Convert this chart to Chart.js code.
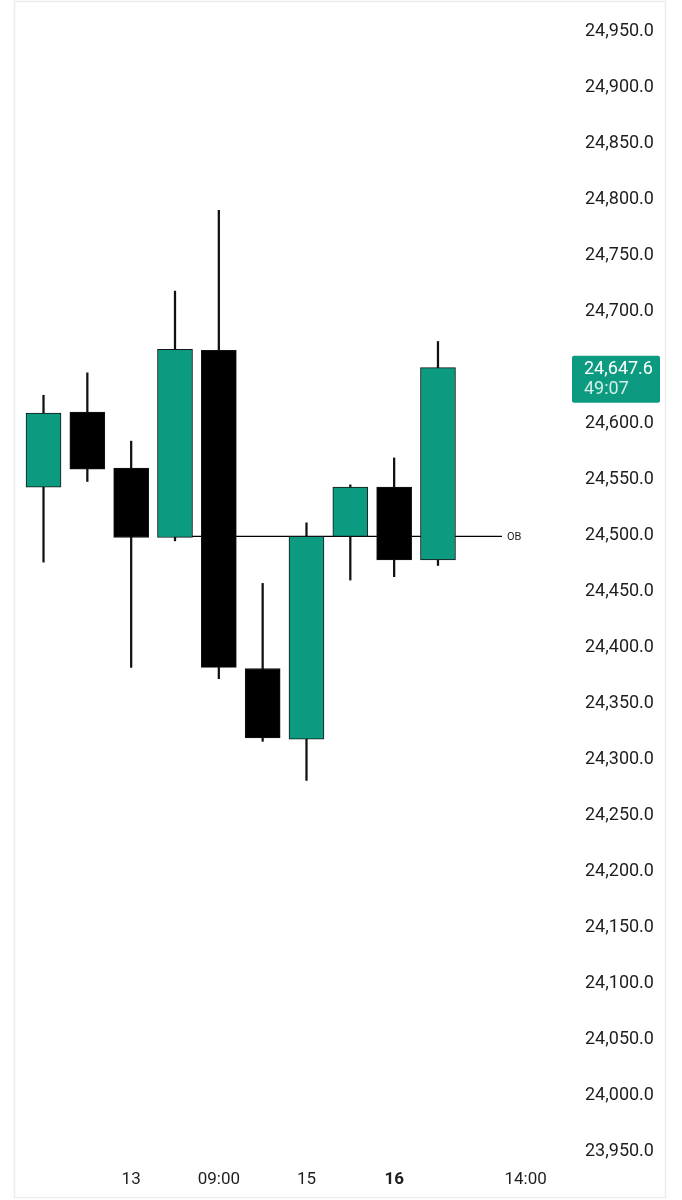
<!DOCTYPE html>
<html>
<head>
<meta charset="utf-8">
<script src="https://cdn.jsdelivr.net/npm/chart.js@4.4.1/dist/chart.umd.min.js"></script>
<style>
  body { margin: 0; background: #fff; }
  canvas { display: block; }
</style>
</head>
<body>
<canvas id="chart" width="682" height="1200"></canvas>
<script>
// DATA
let opens  = [24541, 24608, 24558, 24496, 24663, 24379, 24316, 24497, 24541, 24476];
let closes = [24607, 24557, 24496, 24664, 24380, 24317, 24497, 24541, 24476, 24647.6];
let highs  = [24623, 24643, 24582, 24716, 24788, 24455, 24509, 24543, 24567, 24671];
let lows   = [24474, 24546, 24380, 24493, 24370, 24314, 24279, 24458, 24461, 24471];

let xTickPos = [2, 4, 6, 8, 11];
let xTickLabels = ["13", "09:00", "15", "16", "14:00"];
let boldTick = "16";

let yTicks = [24950, 24900, 24850, 24800, 24750, 24700, 24650, 24600, 24550, 24500,
              24450, 24400, 24350, 24300, 24250, 24200, 24150, 24100, 24050, 24000, 23950];

let obLevel = 24497;
let obStart = 3;
let obEnd = 10.46;
let obText = "OB";

let lastPrice = 24647.6;
let countdown = "49:07";

const GREEN = '#0c9b80';
const TEXT = '#1e1e1e';
const FONT = 'Roboto';

function fmt(v) {
    return v.toLocaleString('en-US', { minimumFractionDigits: 1, maximumFractionDigits: 1 });
}

// candle points
let bodies = opens.map((o, i) => ({ x: i, y: [o, closes[i]] }));
let wicks = lows.map((l, i) => ({ x: i, y: [l, highs[i]] }));
let bodyColors = opens.map((o, i) => closes[i] >= o ? GREEN : '#000');

// PLUGIN: frame, OB label, price tag
const extras = {
    id: 'extras',
    beforeDraw(chart) {
        let c = chart.ctx;
        c.save();
        c.strokeStyle = '#ececec';
        c.lineWidth = 1.5;
        c.strokeRect(14.5, 1.5, 651, 1196);
        c.restore();
    },
    afterDraw(chart) {
        let c = chart.ctx;
        let xs = chart.scales.x, ys = chart.scales.y;

        // OB label
        c.save();
        c.font = '11px ' + FONT;
        c.fillStyle = TEXT;
        c.textBaseline = 'middle';
        c.fillText(obText, xs.getPixelForValue(obEnd) + 5, ys.getPixelForValue(obLevel) + 1);

        // last price tag
        let py = ys.getPixelForValue(lastPrice);
        c.fillStyle = GREEN;
        c.beginPath();
        c.roundRect(572, py - 12, 88, 47, 2);
        c.fill();
        c.font = '18px ' + FONT;
        c.textAlign = 'left';
        c.fillStyle = '#ffffff';
        c.fillText(fmt(lastPrice), 584, py + 2);
        c.fillStyle = 'rgba(255,255,255,0.82)';
        c.fillText(countdown, 584, py + 22);
        c.restore();
    }
};

let chart = new Chart(document.getElementById('chart'), {
    type: 'bar',
    data: {
        datasets: [
            {
                type: 'line',
                data: [{ x: obStart, y: obLevel }, { x: obEnd, y: obLevel }],
                borderColor: '#000',
                borderWidth: 1.3,
                pointRadius: 0,
                order: 3
            },
            {
                data: wicks,
                backgroundColor: '#111',
                barThickness: 1.6,
                grouped: false,
                order: 2
            },
            {
                data: bodies,
                backgroundColor: bodyColors,
                borderColor: '#141414',
                borderWidth: 1,
                borderSkipped: false,
                barThickness: 35,
                grouped: false,
                order: 1
            }
        ]
    },
    options: {
        responsive: false,
        animation: false,
        devicePixelRatio: 1,
        layout: { autoPadding: false, padding: { left: 12, top: 2, right: 0, bottom: 2 } },
        plugins: { legend: { display: false }, tooltip: { enabled: false } },
        scales: {
            x: {
                type: 'linear',
                offset: false,
                min: -0.719,
                max: 11.921,
                grid: { display: false, drawTicks: false, offset: false },
                border: { display: false },
                afterBuildTicks: s => { s.ticks = xTickPos.map(v => ({ value: v })); },
                afterFit: s => { s.height = 38; s.paddingLeft = 0; s.paddingRight = 0; },
                ticks: {
                    padding: 10,
                    maxRotation: 0,
                    autoSkip: false,
                    color: TEXT,
                    font: ctx => ({
                        family: FONT,
                        size: 17,
                        weight: xTickLabels[ctx.index] === boldTick ? 'bold' : 'normal'
                    }),
                    callback: (v, i) => xTickLabels[i]
                }
            },
            y: {
                position: 'right',
                min: 23940.18,
                max: 24974.11,
                grid: { display: false, drawTicks: false },
                border: { display: false },
                afterBuildTicks: s => { s.ticks = yTicks.map(v => ({ value: v })); },
                afterFit: s => { s.width = 116; s.paddingTop = 0; s.paddingBottom = 0; },
                ticks: {
                    padding: 19,
                    labelOffset: 2,
                    color: TEXT,
                    font: { family: FONT, size: 18 },
                    callback: v => Math.abs(v - lastPrice) < 25 ? '' : fmt(v)
                }
            }
        }
    },
    plugins: [extras]
});
</script>
</body>
</html>
